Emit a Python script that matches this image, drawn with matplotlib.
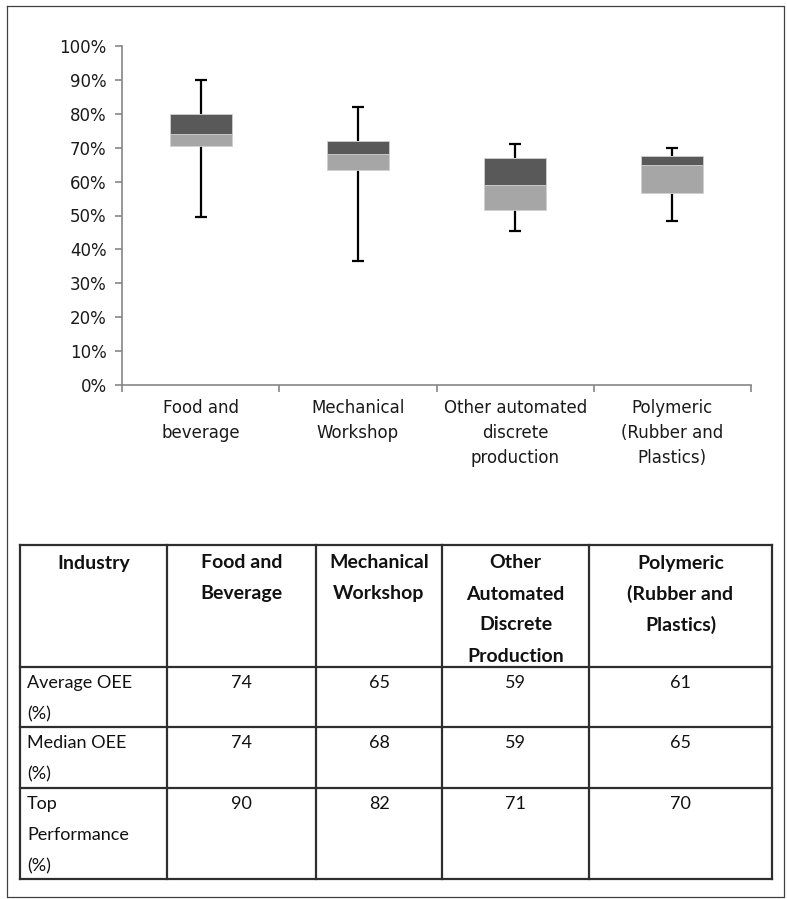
import matplotlib
matplotlib.use("Agg")
import matplotlib.pyplot as plt
import numpy as np

# OEE distribution per industry (%)
industries = ["Food and\nbeverage", "Mechanical\nWorkshop",
              "Other automated\ndiscrete\nproduction", "Polymeric\n(Rubber and\nPlastics)"]
oee_min = [49.5, 36.5, 45.5, 48.5]
oee_q1 = [70.5, 63.5, 51.5, 56.5]
oee_median = [74, 68, 59, 65]
oee_q3 = [80, 72, 67, 67.5]
oee_top = [90, 82, 71, 70]
oee_average = [74, 65, 59, 61]

table_header = ["Industry", "Food and\nBeverage", "Mechanical\nWorkshop",
                "Other\nAutomated\nDiscrete\nProduction", "Polymeric\n(Rubber and\nPlastics)"]
row_labels = ["Average OEE\n(%)", "Median OEE\n(%)", "Top\nPerformance\n(%)"]

W, H = 787, 899
fig = plt.figure(figsize=(W / 100, H / 100), dpi=100)
fig.patch.set_facecolor("white")

# chart area
ax = fig.add_axes([122 / W, 1 - 385 / H, (751 - 122) / W, (385 - 46) / H])
x = np.arange(len(industries))
bw = 0.395
q1 = np.array(oee_q1)
med = np.array(oee_median)
q3 = np.array(oee_q3)
ax.bar(x, med - q1, bw, bottom=q1, color="#a6a6a6", edgecolor="#d0d0d0", linewidth=0.6, zorder=2)
ax.bar(x, q3 - med, bw, bottom=med, color="#595959", edgecolor="#d0d0d0", linewidth=0.6, zorder=2)

# whiskers: stems outside the box, caps only at the ends
ax.vlines(x, oee_min, q1, color="black", lw=1.6, zorder=1)
ax.vlines(x, q3, oee_top, color="black", lw=1.6, zorder=1)
ax.plot(x, oee_min, ls="none", marker="_", ms=9, mew=1.6, color="black")
ax.plot(x, oee_top, ls="none", marker="_", ms=9, mew=1.6, color="black")

tick_font = "DejaVu Sans"
ax.set_xlim(-0.5, len(industries) - 0.5)
ax.set_ylim(0, 100)
ax.set_yticks(np.arange(0, 101, 10))
ax.set_yticklabels([f"{v}%" for v in range(0, 101, 10)], family=tick_font,
                   fontsize=12, color="#1a1a1a")
ax.set_xticks(x)
ax.set_xticklabels(industries, family=tick_font, fontsize=12, color="#1a1a1a",
                   linespacing=1.5)
ax.set_xticks(np.arange(-0.5, len(industries), 1), minor=True)
ax.tick_params(axis="x", which="major", length=0, pad=10)
ax.tick_params(axis="x", which="minor", length=5, color="#868686", width=1.2)
ax.tick_params(axis="y", length=5, color="#868686", width=1.2, pad=6)
for s in ["top", "right"]:
    ax.spines[s].set_visible(False)
for s in ["left", "bottom"]:
    ax.spines[s].set_color("#868686")
    ax.spines[s].set_linewidth(1.2)

# table + outer frame in pixel coordinates
ov = fig.add_axes([0, 0, 1, 1], zorder=-1)
ov.set_xlim(0, W)
ov.set_ylim(H, 0)
ov.axis("off")
ov.plot([6.5, 784, 784, 6.5, 6.5], [5.5, 5.5, 897, 897, 5.5], color="#404040", lw=0.9)

col_edges = [20, 167, 316, 442, 589, 772]
row_edges = [545, 667, 727, 788, 879]
for cx in col_edges:
    ov.plot([cx, cx], [row_edges[0], row_edges[-1]], color="#2e2e2e", lw=1.6)
for ry in row_edges:
    ov.plot([col_edges[0], col_edges[-1]], [ry, ry], color="#2e2e2e", lw=1.6)

step = 31
font = "Lato"
for j, txt in enumerate(table_header):
    cx = (col_edges[j] + col_edges[j + 1]) / 2
    for k, line in enumerate(txt.split("\n")):
        ov.text(cx, 563 + k * step, line, ha="center", va="center", family=font,
                fontweight="bold", fontsize=14, color="#111111")

row_values = [oee_average, oee_median, oee_top]
for i, lab in enumerate(row_labels):
    y0 = row_edges[i + 1] + 16
    for k, line in enumerate(lab.split("\n")):
        ov.text(col_edges[0] + 7, y0 + k * step, line, ha="left", va="center",
                family=font, fontsize=13, color="#111111")
    for j, v in enumerate(row_values[i]):
        cx = (col_edges[j + 1] + col_edges[j + 2]) / 2
        ov.text(cx, y0, str(v), ha="center", va="center", family=font,
                fontsize=13, color="#111111")

fig.savefig("out.png", dpi=100)
